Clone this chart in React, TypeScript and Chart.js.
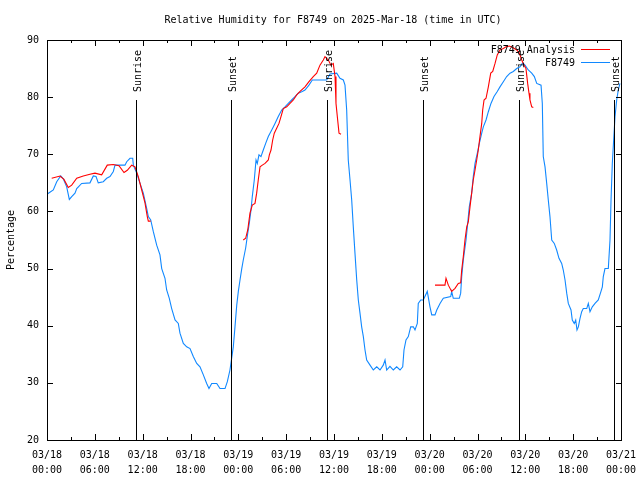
import React, { useEffect, useRef } from 'react';
import { Chart, registerables } from 'chart.js';

Chart.register(...registerables);

const FONT = '"DejaVu Sans Mono", "Liberation Mono", monospace';
const TITLE = 'Relative Humidity for F8749 on 2025-Mar-18 (time in UTC)';
const Y_TITLE = 'Percentage';
const SERIES_ANALYSIS = 'F8749 Analysis';
const SERIES_OBS = 'F8749';

// x tick labels (every 6 hours from 03/18 00:00 UTC)
const xTickDates = ['03/18', '03/18', '03/18', '03/18', '03/19', '03/19', '03/19', '03/19', '03/20', '03/20', '03/20', '03/20', '03/21'];
const xTickTimes = ['00:00', '06:00', '12:00', '18:00', '00:00', '06:00', '12:00', '18:00', '00:00', '06:00', '12:00', '18:00', '00:00'];
const yTicks = [20, 30, 40, 50, 60, 70, 80, 90];

// sunrise / sunset (hours since 03/18 00:00 UTC)
const sunriseHours = [11.17, 35.13, 59.2];
const sunsetHours = [23.08, 47.15, 71.12];

// F8749 observations (hours since start, %)
const obsHours = [
  0.0, 0.79, 1.22, 1.72, 2.04, 2.47, 2.8, 3.1, 3.51, 3.73, 4.35, 5.39, 5.81, 6.15, 6.43, 7.06, 7.49, 7.9, 8.32, 8.53,
  9.78, 10.0, 10.41, 10.75, 10.83, 11.25, 11.67, 12.08, 12.51, 12.71, 13.01, 13.33, 13.76, 14.17, 14.39, 14.8, 15.01,
  15.34, 15.64, 16.06, 16.47, 16.68, 17.1, 17.52, 17.94, 18.35, 18.78, 19.19, 19.61, 20.03, 20.32, 20.66, 21.29, 21.7,
  22.33, 22.62, 22.95, 23.37, 23.58, 23.8, 24.0, 24.21, 24.42, 24.62, 24.92, 25.18, 25.38, 25.59, 25.75, 26.0, 26.22,
  26.38, 26.59, 26.84, 27.13, 27.43, 27.76, 28.19, 28.6, 29.01, 29.44, 29.85, 30.27, 30.69, 31.11, 31.52, 32.02, 32.36,
  32.86, 33.28, 35.08, 35.5, 36.34, 36.75, 37.17, 37.38, 37.59, 37.79, 38.01, 38.22, 38.42, 38.63, 38.85, 39.05, 39.26,
  39.47, 39.68, 39.89, 40.1, 40.52, 40.93, 41.36, 41.77, 42.18, 42.4, 42.61, 43.02, 43.44, 43.86, 44.28, 44.62, 44.78,
  45.03, 45.32, 45.62, 45.95, 46.16, 46.45, 46.57, 46.88, 47.2, 47.7, 48.04, 48.26, 48.67, 48.89, 49.3, 49.71, 50.64,
  50.76, 50.96, 51.72, 51.89, 52.02, 52.22, 52.56, 52.77, 52.97, 53.27, 53.47, 53.69, 53.98, 54.23, 54.53, 54.73, 55.07,
  55.36, 55.69, 56.07, 56.48, 56.82, 57.24, 57.66, 58.08, 58.49, 58.92, 59.33, 59.67, 59.96, 60.37, 60.8, 61.13, 61.43,
  61.97, 62.13, 62.25, 62.47, 62.68, 62.88, 63.09, 63.31, 63.63, 63.93, 64.22, 64.56, 64.76, 64.98, 65.19, 65.39, 65.73,
  65.89, 66.14, 66.32, 66.48, 66.65, 66.86, 67.07, 67.27, 67.7, 67.9, 68.11, 68.4, 68.74, 69.15, 69.49, 69.66, 69.78,
  69.99, 70.41, 70.62, 70.75, 70.91, 71.08, 71.25, 71.46, 71.66, 71.87,
];
const obsValues = [
  63.0, 63.75, 65.2, 66.2, 65.7, 64.3, 62.1, 62.6, 63.2, 64.0, 64.9, 65.0, 66.2, 66.1, 65.0, 65.2, 65.8, 66.1, 67.0, 68.1,
  68.1, 68.7, 69.3, 69.3, 68.1, 66.7, 64.9, 63.2, 60.5, 59.1, 58.5, 56.5, 54.1, 52.4, 50.0, 48.3, 46.25,
  44.8, 43.0, 41.0, 40.4, 38.7, 36.9, 36.3, 36.0, 34.6, 33.4, 32.8, 31.4, 29.9, 29.0, 29.9, 29.9, 29.0,
  29.0, 30.2, 32.25, 36.3, 39.8, 43.6, 46.0, 48.0, 49.9, 51.5, 53.6, 56.2, 58.0, 60.25, 62.6, 65.5, 69.0,
  68.4, 69.9, 69.6, 70.75, 71.9, 73.1, 74.25, 75.4, 76.6, 77.75, 78.3, 78.9, 79.5, 80.1, 80.7, 81.0, 81.25,
  82.1, 83.0, 83.0, 84.05, 84.2, 83.3, 83.0, 82.1, 77.75, 69.0, 65.5, 62.0, 57.3, 52.7, 48.0, 44.5, 42.2,
  39.8, 38.1, 35.75, 34.0, 33.1, 32.25, 32.8, 32.25, 33.1, 34.0, 32.25, 32.9, 32.25, 32.8, 32.25, 32.8, 35.75,
  37.5, 38.1, 39.8, 39.8, 39.25, 40.4, 43.9, 44.5, 44.5, 46.0, 43.3, 41.9, 41.9, 42.75, 43.9, 44.8, 45.1,
  46.0, 44.8, 44.8, 45.7, 48.6, 51.5, 55.0, 57.9, 60.8, 63.2, 66.1, 68.4, 70.2, 71.9, 73.7, 74.8, 76.0,
  77.45, 78.9, 80.1, 81.0, 81.8, 82.7, 83.6, 84.2, 84.5, 85.0, 85.3, 86.0, 85.6, 84.75, 84.2, 83.6, 82.4,
  82.1, 78.9, 69.6, 67.8, 64.9, 62.0, 59.1, 55.0, 54.4, 53.25, 51.8, 50.9, 49.75, 48.0, 45.7, 43.9, 42.75,
  41.0, 40.4, 41.0, 39.25, 39.8, 41.3, 42.45, 43.0, 43.0, 43.9, 42.45, 43.3, 43.9, 44.5, 46.0, 46.8, 48.6,
  50.0, 50.0, 55.0, 62.0, 68.4, 72.5, 76.6, 79.5, 81.25, 82.4,
];

// F8749 Analysis (hours since start, %); null = gap
const analysisHours = [
  0.59, 1.63, 2.13, 2.67, 3.1, 3.73, 4.55, 5.39, 6.02, 6.86, 7.56, 8.32, 9.03, 9.66, 10.07, 10.62, 11.04, 11.45, 11.88,
  12.29, 12.58, 12.71, 13.01, 18.0,
  24.62, 24.92, 25.18, 25.46, 25.75, 26.09, 26.3, 26.5, 26.72, 27.01, 27.35, 27.76, 27.89, 28.1, 28.31, 28.51, 28.81,
  29.1, 29.35, 29.64, 30.07, 30.48, 30.9, 31.32, 31.74, 32.36, 32.86, 33.4, 33.83, 34.24, 34.66, 34.87, 35.29, 35.62,
  35.91, 36.13, 36.25, 36.46, 36.63, 36.88, 42.0,
  48.67, 49.92, 50.05, 50.34, 50.76, 51.18, 51.59, 51.89, 52.02, 52.22, 52.43, 52.65, 52.85, 53.06, 53.27, 53.47, 53.69,
  53.9, 54.1, 54.31, 54.53, 54.65, 54.82, 55.07, 55.36, 55.66, 55.91, 56.2, 56.48, 56.82, 57.24, 57.58, 57.99, 58.42,
  58.92, 59.25, 59.55, 59.83, 60.08, 60.29, 60.46, 60.58, 60.8, 61.0,
];
const analysisValues = [
  65.8, 66.2, 65.6, 64.2, 64.6, 65.8, 66.2, 66.5, 66.7, 66.4, 68.1, 68.2, 68.0, 66.8, 67.2, 68.1, 67.8, 66.1, 63.75,
  61.5, 59.1, 58.3, 58.3, null,
  55.0, 55.3, 56.75, 59.7, 61.1, 61.4, 63.2, 65.5, 67.8, 68.1, 68.4, 69.0, 69.9, 70.75, 72.5, 73.7, 74.55,
  75.4, 76.6, 78.0, 78.3, 78.9, 79.5, 80.4, 81.0, 81.8, 82.7, 83.6, 84.2, 85.6, 86.5, 87.1, 86.5, 85.6,
  85.9, 83.6, 78.9, 76.0, 73.7, 73.5, null,
  47.1, 47.1, 48.3, 47.1, 46.0, 46.55, 47.4, 47.5, 49.75, 52.1, 55.0, 57.3, 58.2, 60.8, 63.2, 65.5, 67.25,
  69.0, 70.75, 73.1, 75.4, 77.75, 79.5, 79.8, 81.8, 84.2, 84.5, 85.9, 87.4, 88.25, 88.5, 88.8, 88.95, 88.7,
  88.25, 87.7, 86.5, 85.6, 85.0, 82.4, 80.7, 79.5, 78.3, 78.2,
];

const RED = '#ff0000';
const BLUE = 'rgb(16,136,255)';

const overlay = {
  id: 'gnuplotOverlay',
  afterDatasetsDraw(chart: any) {
    const { ctx, chartArea: a, scales } = chart;
    const xs = scales.x;
    ctx.save();
    ctx.font = `10px ${FONT}`;
    ctx.fillStyle = '#000';
    ctx.strokeStyle = '#000';
    ctx.lineWidth = 1;
    const drawSun = (h: number, label: string) => {
      const px = Math.round(xs.getPixelForValue(h)) + 0.5;
      ctx.beginPath();
      ctx.moveTo(px, 100);
      ctx.lineTo(px, a.bottom);
      ctx.stroke();
      ctx.save();
      ctx.translate(px + 1.5, 92);
      ctx.rotate(-Math.PI / 2);
      ctx.textAlign = 'left';
      ctx.textBaseline = 'middle';
      ctx.fillText(label, 0, 0);
      ctx.restore();
    };
    sunriseHours.forEach((h) => drawSun(h, 'Sunrise'));
    sunsetHours.forEach((h) => drawSun(h, 'Sunset'));

    // legend
    ctx.textAlign = 'right';
    ctx.textBaseline = 'middle';
    ctx.fillText(SERIES_ANALYSIS, 575, 50);
    ctx.fillText(SERIES_OBS, 575, 63);
    ctx.strokeStyle = RED;
    ctx.beginPath();
    ctx.moveTo(581, 49.5);
    ctx.lineTo(610, 49.5);
    ctx.stroke();
    ctx.strokeStyle = BLUE;
    ctx.beginPath();
    ctx.moveTo(581, 62.5);
    ctx.lineTo(610, 62.5);
    ctx.stroke();
    ctx.restore();
  },
  afterDraw(chart: any) {
    const { ctx, chartArea: a, scales } = chart;
    const xs = scales.x;
    const ys = scales.y;
    ctx.save();
    ctx.strokeStyle = '#000';
    ctx.lineWidth = 1;
    ctx.strokeRect(a.left + 0.5, a.top + 0.5, a.right - a.left, a.bottom - a.top);
    ctx.beginPath();
    yTicks.forEach((v) => {
      const py = Math.round(ys.getPixelForValue(v)) + 0.5;
      ctx.moveTo(a.left, py);
      ctx.lineTo(a.left + 6, py);
      ctx.moveTo(a.right + 1, py);
      ctx.lineTo(a.right - 5, py);
    });
    for (let h = 0; h <= 72; h += 3) {
      const px = Math.round(xs.getPixelForValue(h)) + 0.5;
      const len = h % 6 === 0 ? 6 : 3;
      ctx.moveTo(px, a.bottom);
      ctx.lineTo(px, a.bottom - len);
      ctx.moveTo(px, a.top);
      ctx.lineTo(px, a.top + len);
    }
    ctx.stroke();

    ctx.fillStyle = '#000';
    ctx.font = `10px ${FONT}`;
    ctx.textAlign = 'center';
    ctx.textBaseline = 'middle';
    ctx.fillText(TITLE, 333, 20);
    ctx.save();
    ctx.translate(11, 240);
    ctx.rotate(-Math.PI / 2);
    ctx.fillText(Y_TITLE, 0, 0);
    ctx.restore();
    ctx.restore();
  },
};

export default function App() {
  const ref = useRef<HTMLCanvasElement | null>(null);
  useEffect(() => {
    if (!ref.current) return;
    const chart = new Chart(ref.current, {
      type: 'line',
      data: {
        datasets: [
          {
            label: SERIES_ANALYSIS,
            data: analysisHours.map((h, i) => ({ x: h, y: analysisValues[i] })),
            borderColor: RED,
            backgroundColor: RED,
            borderWidth: 1.1,
            pointRadius: 0,
            tension: 0,
            spanGaps: false,
          },
          {
            label: SERIES_OBS,
            data: obsHours.map((h, i) => ({ x: h, y: obsValues[i] })),
            borderColor: BLUE,
            backgroundColor: BLUE,
            borderWidth: 1.1,
            pointRadius: 0,
            tension: 0,
          },
        ],
      },
      options: {
        animation: false,
        responsive: false,
        devicePixelRatio: 1,
        layout: { padding: { left: 0, right: 19, top: 40, bottom: 0 } },
        plugins: { legend: { display: false }, tooltip: { enabled: false }, title: { display: false } },
        scales: {
          x: {
            type: 'linear',
            min: 0,
            max: 72,
            afterFit: (s: any) => { s.height = 40; s.paddingLeft = 0; s.paddingRight = 0; },
            grid: { display: false, drawTicks: false },
            border: { display: false },
            ticks: {
              stepSize: 6,
              autoSkip: false,
              maxRotation: 0,
              padding: 8,
              color: '#000',
              font: { family: FONT, size: 10, lineHeight: '15px' },
              callback: (v: any) => {
                const i = Math.round(Number(v) / 6);
                return [xTickDates[i], xTickTimes[i]];
              },
            },
          },
          y: {
            type: 'linear',
            min: 20,
            max: 90,
            afterFit: (s: any) => { s.width = 47; s.paddingTop = 0; s.paddingBottom = 0; },
            grid: { display: false, drawTicks: false },
            border: { display: false },
            ticks: {
              stepSize: 10,
              padding: 8,
              color: '#000',
              font: { family: FONT, size: 10 },
            },
          },
        },
      },
      plugins: [overlay],
    } as any);
    return () => chart.destroy();
  }, []);
  return (
    <div style={{ position: 'fixed', left: 0, top: 0, width: 640, height: 480, background: '#fff' }}>
      <canvas ref={ref} width={640} height={480} />
    </div>
  );
}
